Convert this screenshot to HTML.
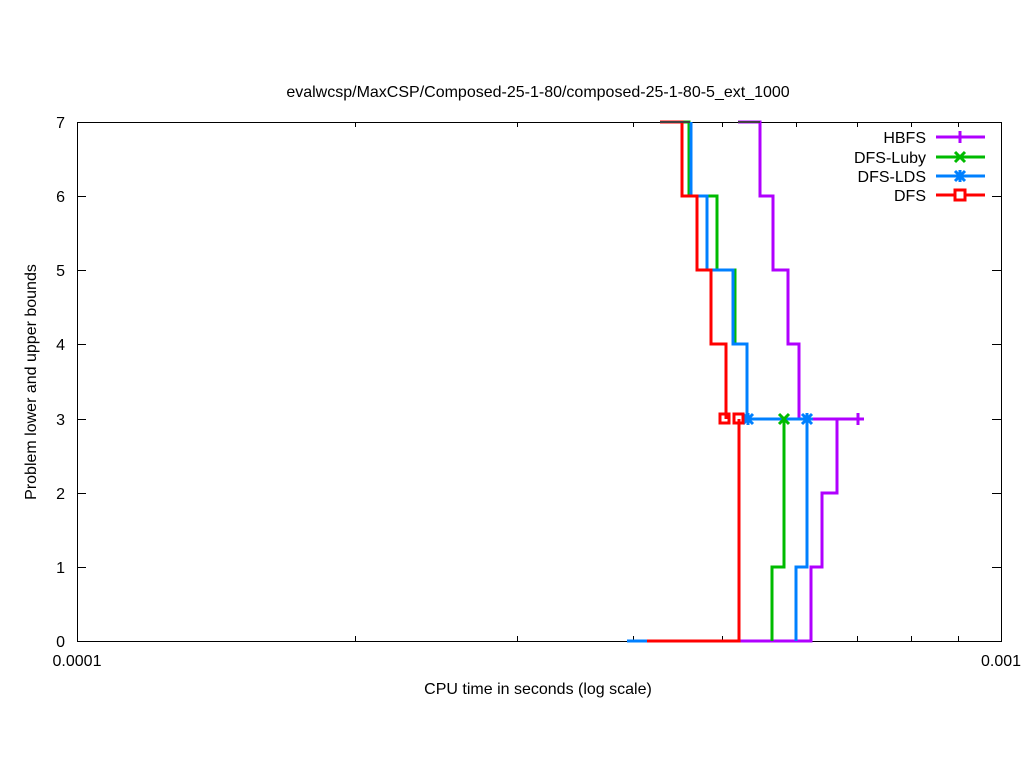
<!DOCTYPE html>
<html><head><meta charset="utf-8"><style>body{margin:0;background:#fff}svg{display:block}</style></head>
<body>
<svg width="1024" height="768" xmlns="http://www.w3.org/2000/svg" font-family="Liberation Sans, sans-serif" font-size="16">
<rect width="1024" height="768" fill="#fff"/>
<text x="538" y="97" text-anchor="middle">evalwcsp/MaxCSP/Composed-25-1-80/composed-25-1-80-5_ext_1000</text>
<g stroke="#000" stroke-width="1" fill="none">
<rect x="77.5" y="122.5" width="924" height="519"/>
<path d="M77 567.5h9M1001 567.5h-9M77 493.5h9M1001 493.5h-9M77 419.5h9M1001 419.5h-9M77 344.5h9M1001 344.5h-9M77 270.5h9M1001 270.5h-9M77 196.5h9M1001 196.5h-9"/>
<path d="M355.5 641v-5M355.5 122v5M517.5 641v-5M517.5 122v5M633.5 641v-5M633.5 122v5M722.5 641v-5M722.5 122v5M796.5 641v-5M796.5 122v5M857.5 641v-5M857.5 122v5M911.5 641v-5M911.5 122v5M958.5 641v-5M958.5 122v5M77.5 641v-9M77.5 122v9M1001.5 641v-9M1001.5 122v9"/>
</g>
<g text-anchor="end">
<text x="65" y="647">0</text><text x="65" y="573">1</text><text x="65" y="499">2</text><text x="65" y="425">3</text><text x="65" y="350">4</text><text x="65" y="276">5</text><text x="65" y="202">6</text><text x="65" y="128">7</text>
</g>
<text x="77" y="666" text-anchor="middle">0.0001</text>
<text x="1001" y="666" text-anchor="middle">0.001</text>
<text x="538" y="694" text-anchor="middle">CPU time in seconds (log scale)</text>
<text transform="translate(36,382) rotate(-90)" text-anchor="middle">Problem lower and upper bounds</text>
<g fill="none" stroke-width="3">
<path stroke="#b000ff" d="M738 122H760V196H773V270H788V344H799V419H858M739 641H811V567H822V493H837V419"/>
<path stroke="#00bb00" d="M660 122H689V196H717V270H735V344H747V419M772 641V567H784V419"/>
<path stroke="#0080ff" d="M691 122V196H707V270H733V344H747V419H807V567H796V641M627 641H647"/>
<path stroke="#ff0000" d="M660 122H682V196H697V270H711V344H726V419M647 641H739V419"/>
<path stroke="#404040" stroke-width="2" d="M660 122H690M738 122H760"/>
</g>
<g stroke-width="3" fill="none">
<path stroke="#b000ff" d="M858 413v12M852 419h12"/>
<path stroke="#00bb00" d="M779 414l10 10M789 414l-10 10"/>
<path stroke="#0080ff" d="M743 414l10 10M753 414l-10 10M748 413v12M742 419h12M802 414l10 10M812 414l-10 10M807 413v12M801 419h12"/>
<path stroke="#ff0000" d="M720 414h9v9h-9zM734 414h9v9h-9z"/>
</g>
<g text-anchor="end">
<text x="926" y="143">HBFS</text><text x="926" y="163">DFS-Luby</text><text x="926" y="182">DFS-LDS</text><text x="926" y="201">DFS</text>
</g>
<g stroke-width="3" fill="none">
<path stroke="#b000ff" d="M936 137h49"/><path stroke="#b000ff" d="M960 131v12"/>
<path stroke="#00bb00" d="M936 157h49"/><path stroke="#00bb00" d="M955 152l10 10M965 152l-10 10"/>
<path stroke="#0080ff" d="M936 176h49"/><path stroke="#0080ff" d="M955 171l10 10M965 171l-10 10M960 170v12M954 176h12"/>
<path stroke="#ff0000" d="M936 195h49"/><path stroke="#ff0000" fill="#fff" d="M955 190h10v10h-10z"/>
</g>
</svg>
</body></html>
